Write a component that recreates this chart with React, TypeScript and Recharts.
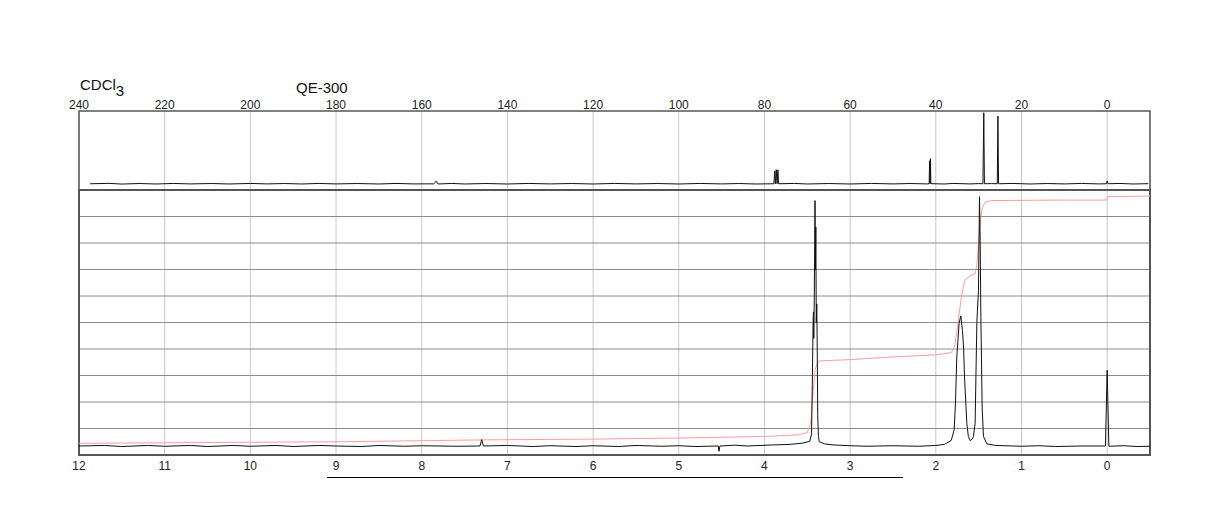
import { CartesianGrid, Line, LineChart, ReferenceArea, ReferenceLine, XAxis, YAxis } from "recharts";

const carbonTicks = [240, 220, 200, 180, 160, 140, 120, 100, 80, 60, 40, 20, 0];
const protonTicks = [12, 11, 10, 9, 8, 7, 6, 5, 4, 3, 2, 1, 0];
const levelTicks = [0, 10, 20, 30, 40, 50, 60, 70, 80, 90, 100];

// 13C trace, [ppm, intensity %]
const carbonTrace: [number, number][] = [
  [237.4, 7.9], [233, 8.4], [230, 7.5], [226, 8.2], [222, 7.6], [218, 8.3], [214, 7.7], [209, 8.2],
  [205, 7.6], [200, 8.3], [196, 7.7], [192, 8.2], [188, 7.6], [184, 8.3], [180, 7.7], [175, 8.2],
  [170, 7.6], [166, 8.3], [162, 7.7], [157.2, 7.8], [156.6, 11], [156.2, 7.6], [153, 8.3], [150, 7.6],
  [145, 8.2], [140, 7.6], [135, 8.3], [130, 7.7], [125, 8.2], [120, 7.6], [115, 8.3], [110, 7.7],
  [105, 8.2], [100, 7.6], [95, 8.3], [90, 7.7], [86, 8.2], [82, 7.6], [77.8, 7.9], [77.6, 24], [77.45, 7.9],
  [77.25, 25.7], [77.05, 7.9], [76.85, 25.5], [76.7, 7.9], [73, 8.3], [70, 7.6], [65, 8.2], [60, 7.6],
  [55, 8.3], [50, 7.7], [46, 8.2], [42, 7.7], [41.55, 8], [41.45, 37], [41.35, 8], [41.25, 39.7],
  [41.15, 8], [38, 7.6], [36, 8.3], [32, 7.7], [30, 8.1], [29.0, 7.9], [28.8, 97.8], [28.65, 7.9],
  [27, 8.1], [25.65, 7.9], [25.5, 93.6], [25.35, 7.9], [22, 8.3], [18, 7.6], [14, 8.2], [10, 7.7],
  [6, 8.3], [2, 7.7], [0.2, 7.9], [0, 11.5], [-0.2, 7.9], [-3, 8.3], [-6, 7.6], [-9.6, 8.0],
];

// 1H trace, [ppm, intensity %]
const protonTrace: [number, number][] = [
  [12, 3.4], [11.7, 3.6], [11.5, 3.2], [11.2, 3.6], [11, 3.3], [10.7, 3.6], [10.5, 3.2], [10.2, 3.6],
  [10, 3.3], [9.7, 3.6], [9.5, 3.2], [9.2, 3.6], [9, 3.4], [8.7, 3.2], [8.5, 3.6], [8.2, 3.3], [8, 3.5],
  [7.6, 3.3], [7.32, 3.4], [7.3, 5.8], [7.28, 3.4], [7.0, 3.6], [6.7, 3.2], [6.5, 3.5], [6.2, 3.2],
  [6, 3.5], [5.7, 3.2], [5.5, 3.6], [5.2, 3.3], [5, 3.5], [4.8, 3.2], [4.54, 3.4], [4.53, 1.4],
  [4.52, 3.4], [4.35, 3.7], [4.2, 3.4], [3.9, 3.8], [3.7, 4.0], [3.55, 4.5], [3.47, 5.2], [3.45, 8],
  [3.44, 30], [3.432, 50], [3.428, 54], [3.424, 44], [3.418, 60], [3.41, 96], [3.405, 70], [3.4, 86],
  [3.395, 50], [3.389, 57], [3.383, 37], [3.378, 15], [3.37, 7], [3.36, 5], [3.3, 4.2], [3.2, 3.8],
  [3.0, 3.5], [2.8, 3.3], [2.5, 3.5], [2.2, 3.3], [2.0, 3.6], [1.9, 4.0], [1.82, 5.5], [1.786, 9.4],
  [1.77, 20], [1.755, 37], [1.74, 44], [1.728, 49.7], [1.708, 52.5], [1.689, 47], [1.675, 40],
  [1.665, 29.5], [1.638, 12], [1.62, 7], [1.599, 5.4], [1.575, 6], [1.561, 6.9], [1.541, 12],
  [1.521, 49.7], [1.514, 54.7], [1.502, 62], [1.49, 97.5], [1.482, 81], [1.474, 52], [1.467, 37],
  [1.459, 18], [1.444, 7], [1.404, 4.2], [1.3, 3.6], [1.0, 3.3], [0.8, 3.5], [0.6, 3.2], [0.3, 3.4],
  [0.02, 3.4], [0.0, 32], [-0.02, 3.3], [-0.2, 3.5], [-0.35, 3.2], [-0.5, 3.3],
];

// 1H integral, [ppm, level %]
const protonIntegral: [number, number][] = [
  [12, 4.4], [10, 4.8], [9, 5.0], [8, 5.4], [7.3, 5.7], [6, 6.0], [5, 6.4], [4, 7.0], [3.6, 7.6],
  [3.5, 8.5], [3.46, 12], [3.43, 24], [3.41, 32], [3.38, 35], [3.36, 35.5], [3.0, 36], [2.5, 37],
  [2.0, 37.8], [1.82, 38.6], [1.78, 41], [1.74, 50], [1.7, 60], [1.66, 66], [1.6, 67.6], [1.54, 68.4],
  [1.52, 72], [1.49, 85], [1.46, 93], [1.42, 95.5], [1.35, 96], [1.0, 96.1], [0.5, 96.2], [0.01, 96.2],
  [-0.01, 97.5], [-0.5, 97.7],
];

const toPoints = (rows: [number, number][]) => rows.map(([ppm, y]) => ({ ppm, y }));

const frame = "#555";
const light = "#c8c8c8";
const tickStyle = { fill: "#222", fontSize: 12 };

export default function App() {
  return (
    <div style={{ position: "absolute", left: 0, top: 0, width: 1224, height: 528, background: "#fff", fontFamily: "'Liberation Sans', Arial, sans-serif" }}>
      <div style={{ position: "absolute", left: 80, top: 76, fontSize: 15, color: "#111" }}>
        CDCl<sub style={{ fontSize: 15, verticalAlign: -6 }}>3</sub>
      </div>
      <div style={{ position: "absolute", left: 296, top: 79, fontSize: 15, color: "#111" }}>QE-300</div>

      <div style={{ position: "absolute", left: 0, top: 0 }}>
        <LineChart width={1224} height={192} margin={{ top: 91, right: 74, bottom: 2, left: 79 }}>
          <CartesianGrid horizontal={false} stroke={light} />
          <XAxis dataKey="ppm" type="number" orientation="top" height={20} reversed domain={[-10, 240]} ticks={carbonTicks} allowDataOverflow tickLine={false} axisLine={false} tick={tickStyle} tickSize={0} tickMargin={2} />
          <YAxis type="number" domain={[0, 100]} hide allowDataOverflow />
          <ReferenceArea x1={240} x2={-10} y1={0} y2={100} fill="none" stroke={frame} strokeWidth={1.5} />
          <ReferenceLine y={0} stroke="#000" strokeWidth={2} />
          <Line data={toPoints(carbonTrace)} dataKey="y" type="linear" stroke="#111" strokeWidth={1} dot={false} isAnimationActive={false} />
        </LineChart>
      </div>

      <div style={{ position: "absolute", left: 0, top: 0 }}>
        <LineChart width={1224} height={528} margin={{ top: 190, right: 74, bottom: 43, left: 79 }}>
          <CartesianGrid horizontal={false} stroke={light} />
          <CartesianGrid vertical={false} stroke="#8c8c8c" />
          <XAxis dataKey="ppm" type="number" height={30} reversed domain={[-0.5, 12]} ticks={protonTicks} allowDataOverflow tickLine={false} axisLine={false} tick={tickStyle} tickSize={0} tickMargin={6} />
          <YAxis type="number" domain={[0, 100]} ticks={levelTicks} hide allowDataOverflow />
          <ReferenceArea x1={12} x2={-0.5} y1={0} y2={100} fill="none" stroke={frame} strokeWidth={2} />
          <Line data={toPoints(protonIntegral)} dataKey="y" type="linear" stroke="#ff9c9c" strokeWidth={1} dot={false} isAnimationActive={false} />
          <Line data={toPoints(protonTrace)} dataKey="y" type="linear" stroke="#111" strokeWidth={1} dot={false} isAnimationActive={false} />
        </LineChart>
      </div>

      <div style={{ position: "absolute", left: 327, top: 477, width: 576, height: 1, background: "#000" }} />
    </div>
  );
}
